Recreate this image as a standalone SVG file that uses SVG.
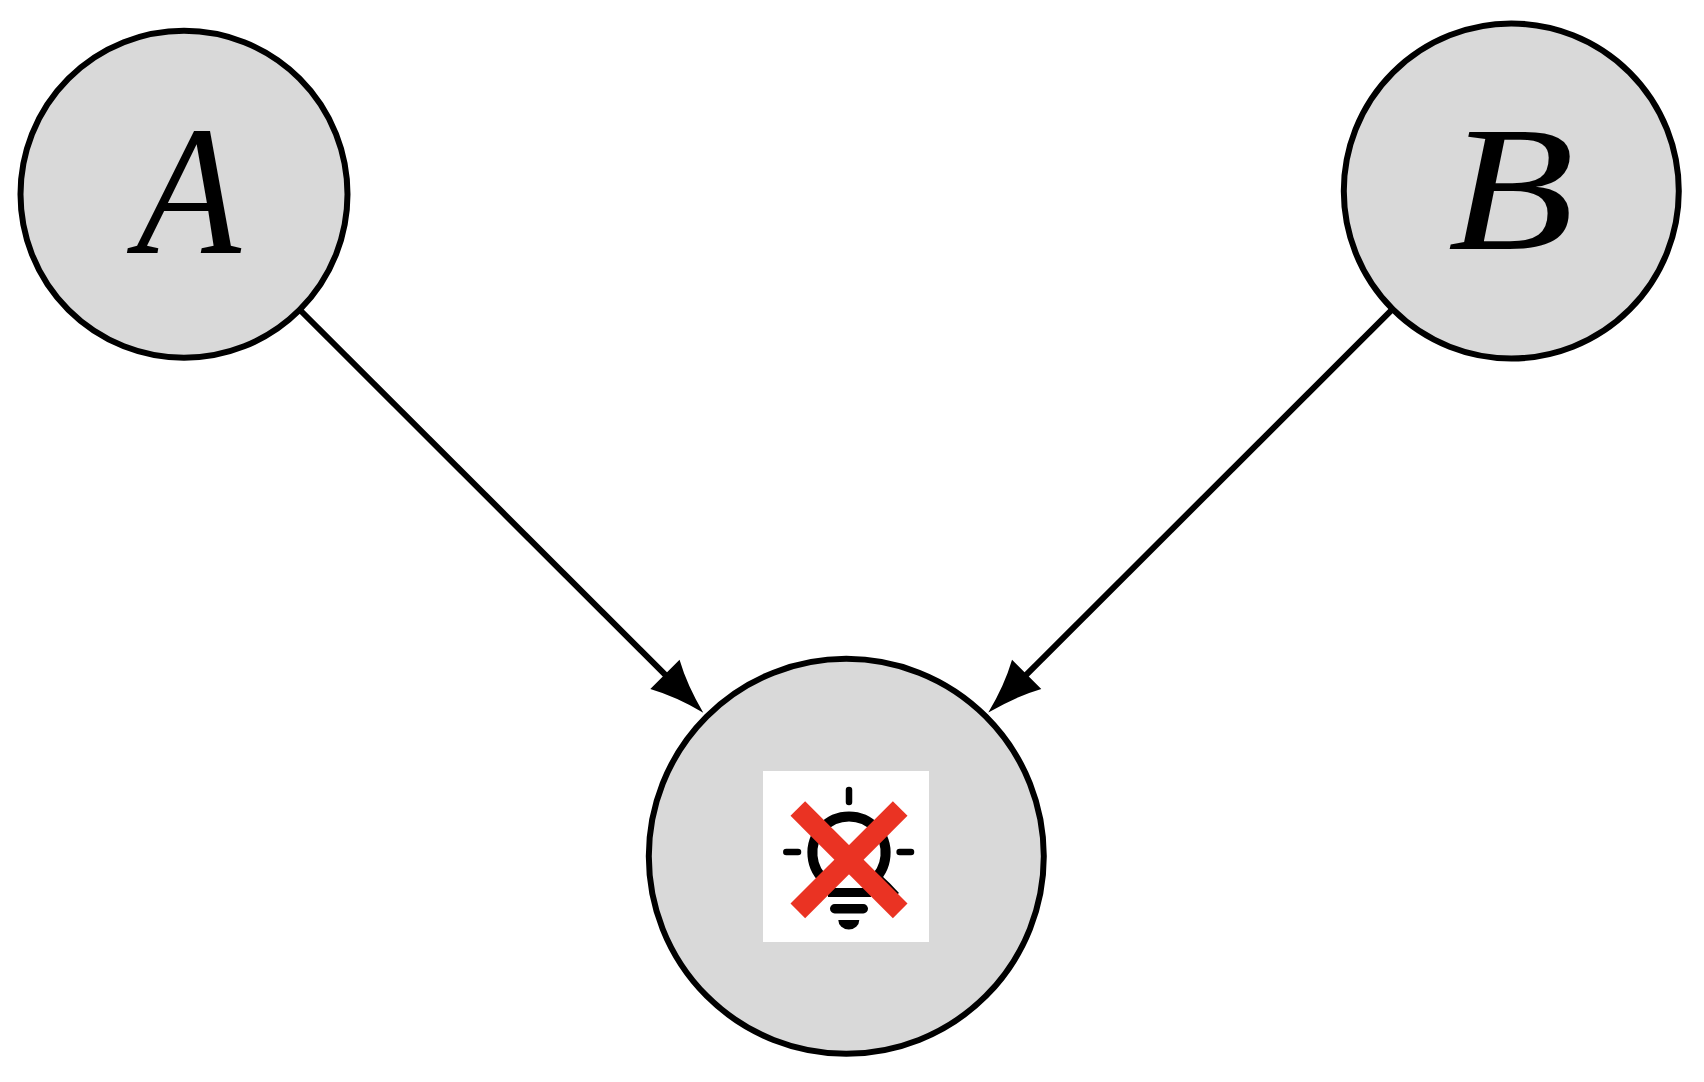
<svg xmlns="http://www.w3.org/2000/svg" width="1704" height="1082" viewBox="0 0 1704 1082">
<style>
.node{fill:#d9d9d9;stroke:#000;stroke-width:6}
.edge{stroke:#000;stroke-width:6;fill:none;marker-end:url(#head)}
.label{font-family:"Liberation Serif","Times New Roman",serif;font-style:italic;fill:#000;text-anchor:middle}
.ray{stroke:#000;stroke-width:6.5;stroke-linecap:round;fill:none}
.cross{stroke:#ea3323;stroke-width:20.7;fill:none}
</style>
<defs>
<marker id="head" markerUnits="userSpaceOnUse" viewBox="-56 -22 60 44" markerWidth="60" markerHeight="44" refX="-50" refY="0" orient="auto">
<path d="M0 0Q-31 -8 -54.2 -20.7L-54.2 20.7Q-31 8 0 0Z" fill="#000"/>
</marker>
</defs>
<rect width="1704" height="1082" fill="#fff"/>
<g id="connectors">
<line class="edge" x1="300" y1="310" x2="667.9" y2="677.3"/>
<line class="edge" x1="1393" y1="308.7" x2="1023.7" y2="677.3"/>
</g>
<g id="node-a">
<circle class="node" cx="184" cy="194.3" r="163.5"/>
<text class="label" transform="translate(188.5 253) scale(0.93 1)" font-size="184">A</text>
</g>
<g id="node-b">
<circle class="node" cx="1511.3" cy="191" r="167.5"/>
<text class="label" transform="translate(1511 248.5) scale(1.17 1)" font-size="177">B</text>
</g>
<g id="node-c">
<circle class="node" cx="846.3" cy="856.3" r="197.5"/>
<rect x="763" y="771" width="166" height="171" fill="#fff"/>
<g id="bulb">
<line class="ray" x1="849" y1="790" x2="849" y2="802"/>
<line class="ray" x1="786.3" y1="852" x2="798" y2="852"/>
<line class="ray" x1="899.6" y1="852" x2="911" y2="852"/>
<path d="M826.7 882A36.6 36.6 0 1 1 871.3 882" fill="none" stroke="#000" stroke-width="10"/>
<path d="M880 874L890 883.5L899 893L895 896L878 880Z" fill="#000"/>
<rect x="828" y="888" width="43" height="9" fill="#000"/>
<rect x="830" y="904" width="38" height="9.5" rx="4.7" fill="#000"/>
<path d="M838.3 920H859.3A10.5 9.5 0 0 1 838.3 920Z" fill="#000"/>
</g>
<g id="cross">
<line class="cross" x1="797.8" y1="808.5" x2="900.2" y2="910.9"/>
<line class="cross" x1="900.2" y1="808.5" x2="797.8" y2="910.9"/>
</g>
</g>
</svg>
